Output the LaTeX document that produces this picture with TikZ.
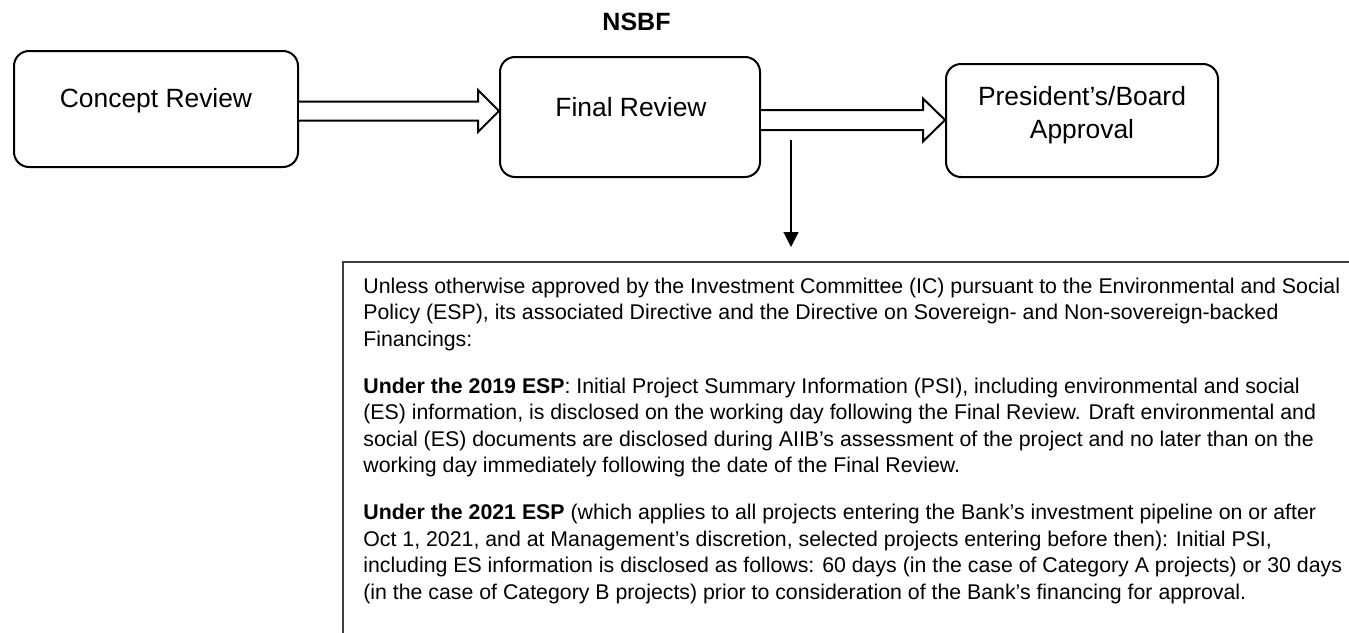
\documentclass[tikz,border=0pt]{standalone}
\usepackage{fontspec}
\setmainfont{Liberation Sans}
\usetikzlibrary{arrows.meta, positioning, calc}
\tikzset{
  stagebox/.style={draw, rounded corners=7.5pt, line width=1pt, fill=white},
  stagelabel/.style={font=\fontsize{13.2}{16.5}\selectfont, align=center, inner sep=0pt},
  headlabel/.style={font=\fontsize{12.5}{15}\selectfont\bfseries, inner sep=0pt},
  blockarrow/.style={draw, line width=1pt, fill=white, line join=miter},
  droparrow/.style={-{Triangle[length=7.5pt, width=7.5pt]}, line width=0.6pt},
  noteframe/.style={draw=black!75, line width=0.7pt},
  notetext/.style={font=\fontsize{10.65}{13.25}\selectfont, align=left, inner xsep=10pt, inner ysep=7.8pt},
}

\begin{document}
\begin{tikzpicture}[x=0.5pt, y=-0.5pt]
  \useasboundingbox (0,0) rectangle (1349,632);

  \node[headlabel, anchor=base] (nsbf) at (636.5,30) {NSBF};

  % review stages
  \node[stagebox, minimum width=142pt, minimum height=58pt] (concept) at (156,109) {};
  \node[stagebox, minimum width=130pt, minimum height=60pt] (final) at (630,117) {};
  \node[stagebox, minimum width=136pt, minimum height=56.5pt] (board) at (1082,120.5) {};
  \node[stagelabel, anchor=base] (conceptlabel) at ($(concept.center)+(0,-1.7)$) {Concept Review};
  \node[stagelabel, anchor=base] (finallabel) at ($(final.center)+(1,-1)$) {Final Review};
  \node[stagelabel] (boardlabel) at ($(board.center)+(0,-5)$) {President’s/Board\\Approval};

  % block arrows between stages
  \coordinate (tipone) at ($(final.west)+(0,-6)$);
  \draw[blockarrow] ($(concept.east |- tipone)+(0,-9.5)$) -- ($(tipone)+(-21,-9.5)$) -- ($(tipone)+(-21,-21)$)
    -- (tipone) -- ($(tipone)+(-21,21)$) -- ($(tipone)+(-21,9.5)$) -- ($(concept.east |- tipone)+(0,9.5)$);
  \coordinate (tiptwo) at ($(board.west)+(0,-0.5)$);
  \draw[blockarrow] ($(final.east |- tiptwo)+(0,-10)$) -- ($(tiptwo)+(-22,-10)$) -- ($(tiptwo)+(-22,-21.5)$)
    -- (tiptwo) -- ($(tiptwo)+(-22,21.5)$) -- ($(tiptwo)+(-22,10)$) -- ($(final.east |- tiptwo)+(0,10)$);

  % disclosure note
  \node[notetext, anchor=north west] (notes) at (343,262) {%
    Unless otherwise approved by the Investment Committee (IC) pursuant to the Environmental and Social\\
    Policy (ESP), its associated Directive and the Directive on Sovereign- and Non-sovereign-backed\\
    Financings:\\[10.25pt]
    \textbf{Under the 2019 ESP}: Initial Project Summary Information (PSI), including environmental and social\\
    (ES) information, is disclosed on the working day following the Final Review. Draft environmental and\\
    social (ES) documents are disclosed during AIIB’s assessment of the project and no later than on the\\
    working day immediately following the date of the Final Review.\\[10.25pt]
    \textbf{Under the 2021 ESP} (which applies to all projects entering the Bank’s investment pipeline on or after\\
    Oct 1, 2021, and at Management’s discretion, selected projects entering before then): Initial PSI,\\
    including ES information is disclosed as follows: 60 days (in the case of Category A projects) or 30 days\\
    (in the case of Category B projects) prior to consideration of the Bank’s financing for approval.};
  \draw[noteframe] (notes.north west |- 0,640) -- (notes.north west) -- (notes.north west -| 1360,0);

  \coordinate (dropstart) at ($(final.east)+(30,23)$);
  \draw[droparrow, shorten >=7.5pt] (dropstart) -- (dropstart |- notes.north);
\end{tikzpicture}
\end{document}
